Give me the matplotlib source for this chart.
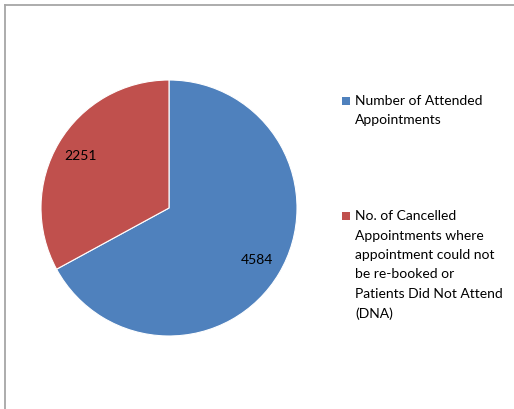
import matplotlib
matplotlib.use("Agg")
import matplotlib.pyplot as plt
from matplotlib.patches import Rectangle
from matplotlib.lines import Line2D

plt.rcParams['font.family'] = ['Lato', 'DejaVu Sans']

categories = ["Number of Attended\nAppointments",
              "No. of Cancelled\nAppointments where\nappointment could not\nbe re-booked or\nPatients Did Not Attend\n(DNA)"]
values = [4584, 2251]
colors = ["#4F81BD", "#C0504D"]

W, H = 514, 409
fig = plt.figure(figsize=(W / 100, H / 100), dpi=100)

# border
fig.add_artist(Line2D([4.5 / W, 4.5 / W], [0, 1 - 4.5 / H], color="#a6a6a6", lw=1.3, transform=fig.transFigure))
fig.add_artist(Line2D([4.5 / W, 1], [1 - 4.5 / H, 1 - 4.5 / H], color="#a6a6a6", lw=1.3, transform=fig.transFigure))

cx, cy, r = 169, 208, 128
ax = fig.add_axes([(cx - r) / W, (H - cy - r) / H, 2 * r / W, 2 * r / H])
total = sum(values)
wedges, texts, autotexts = ax.pie(values, colors=colors, startangle=90, counterclock=False,
                                  autopct=lambda p: f"{round(p * total / 100):d}",
                                  pctdistance=0.8,
                                  wedgeprops=dict(edgecolor="white", linewidth=0.8))
for t in autotexts:
    t.set_fontsize(10)
    t.set_color("black")
ax.set_xlim(-1, 1)
ax.set_ylim(-1, 1)
ax.set_aspect("equal")
ax.axis("off")

# legend
entries_y = [95, 210]
for lab, col, y in zip(categories, colors, entries_y):
    fig.add_artist(Rectangle((342 / W, 1 - (y + 10) / H), 8 / W, 8 / H, facecolor=col,
                             edgecolor="none", transform=fig.transFigure))
    fig.text(355 / W, 1 - y / H, lab, fontsize=10, va="top", ha="left", linespacing=1.75)

fig.savefig("out.png", dpi=100)
